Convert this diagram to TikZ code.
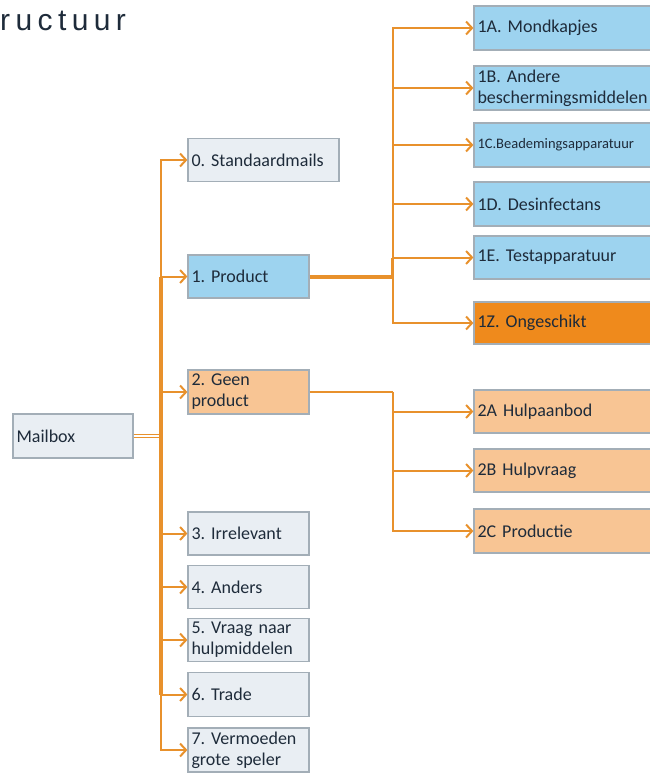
\documentclass[tikz,border=0pt]{standalone}
\usepackage{fontspec}
\setmainfont{Carlito}
\newfontfamily\titelfont[LetterSpace=18]{Liberation Sans}
\usetikzlibrary{arrows.meta,positioning}
\definecolor{lijn}{HTML}{E8912C}
\definecolor{rand}{HTML}{A3AEB7}
\definecolor{tekst}{HTML}{1E2B3A}
\definecolor{grijs}{HTML}{E9EEF3}
\definecolor{blauw}{HTML}{9DD3EF}
\definecolor{perzik}{HTML}{F8C594}
\definecolor{oranje}{HTML}{EF8A1C}
\frenchspacing

\begin{document}
\begin{tikzpicture}[x=1pt, y=-1pt, font=\fontsize{18}{21}\selectfont,
  box/.style={draw=rand, line width=1.2pt, rectangle, minimum height=43pt, inner sep=3.5pt, align=left, text=tekst},
  mid/.style={box, text width=114pt},
  sub/.style={box, text width=171pt},
  conn/.style={draw=lijn, line width=2pt},
  pijl/.style={conn, -{Straight Barb[length=6pt,width=13pt,line width=2pt]}}]
  \useasboundingbox (0,0) rectangle (650,776);
  \node[anchor=base west, inner sep=0pt, text=tekst, font=\titelfont\fontsize{30}{31}\selectfont] (titel) at (0,30.5) {ructuur};
  % eerste niveau
  \node[box, fill=grijs, text width=113pt, minimum height=44pt] (mb) at (73,436) {Mailbox};
  \node[box, fill=grijs, text width=144pt] (s0) at (263.5,160) {0. Standaardmails};
  \node[mid, fill=blauw] (s1) at (248.5,276.5) {1. Product};
  \node[mid, fill=perzik, minimum height=44pt] (s2) at (248.5,392) {2. Geen\\product};
  \node[mid, fill=grijs] (s3) at (248.5,533.5) {3. Irrelevant};
  \node[mid, fill=grijs] (s4) at (248.5,587) {4. Anders};
  \node[mid, fill=grijs] (s5) at (248.5,640) {5. Vraag naar\\hulpmiddelen};
  \node[mid, fill=grijs, minimum height=44pt] (s6) at (248.5,694.5) {6. Trade};
  \node[mid, fill=grijs, minimum height=44pt] (s7) at (248.5,750) {7. Vermoeden\\grote speler};
  % tweede niveau
  \node[sub, fill=blauw, minimum height=44pt] (p1a) at (563,28) {1A. Mondkapjes};
  \node[sub, fill=blauw, minimum height=44pt] (p1b) at (563,88) {1B. Andere\\beschermingsmiddelen};
  \node[sub, fill=blauw, minimum height=44pt, font=\fontsize{14.5}{17}\selectfont] (p1c) at (563,145) {1C.Beademingsapparatuur};
  \node[sub, fill=blauw, minimum height=44pt] (p1d) at (563,204) {1D. Desinfectans};
  \node[sub, fill=blauw] (p1e) at (563,257.5) {1E. Testapparatuur};
  \node[sub, fill=oranje, minimum height=42pt] (p1z) at (563,323) {1Z. Ongeschikt};
  \node[sub, fill=perzik] (g2a) at (563,411.5) {2A Hulpaanbod};
  \node[sub, fill=perzik] (g2b) at (563,470.5) {2B Hulpvraag};
  \node[sub, fill=perzik, minimum height=44pt] (g2c) at (563,531) {2C Productie};
  % verbindingen
  \coordinate (t) at (161,436);
  \coordinate (tp) at (392.5,277);
  \coordinate (tg) at (392.5,392);
  \draw[conn, double=white, line width=1.1pt, double distance=1.4pt] (mb.east) -- (t);
  \draw[conn, line width=3.5pt] (t |- s1.west) -- (t |- s6.west);
  \draw[pijl] (t) |- (s0.west);
  \draw[pijl] (t) |- (s1.west);
  \draw[pijl] (t) |- (s2.west);
  \draw[pijl] (t) |- (s3.west);
  \draw[pijl] (t) |- (s4.west);
  \draw[pijl] (t) |- (s5.west);
  \draw[pijl] (t) |- (s6.west);
  \draw[pijl] (t) |- (s7.west);
  \draw[conn, line width=3.5pt] (s1.east |- tp) -- (tp) -- (tp |- p1e.west);
  \draw[pijl] (tp) |- (p1a.west);
  \draw[pijl] (tp) |- (p1b.west);
  \draw[pijl] (tp) |- (p1c.west);
  \draw[pijl] (tp) |- (p1d.west);
  \draw[pijl] (tp) |- (p1e.west);
  \draw[pijl] (tp) |- (p1z.west);
  \draw[conn] (s2.east |- tg) -- (tg);
  \draw[pijl] (tg) |- (g2a.west);
  \draw[pijl] (tg) |- (g2b.west);
  \draw[pijl] (tg) |- (g2c.west);
\end{tikzpicture}
\end{document}
